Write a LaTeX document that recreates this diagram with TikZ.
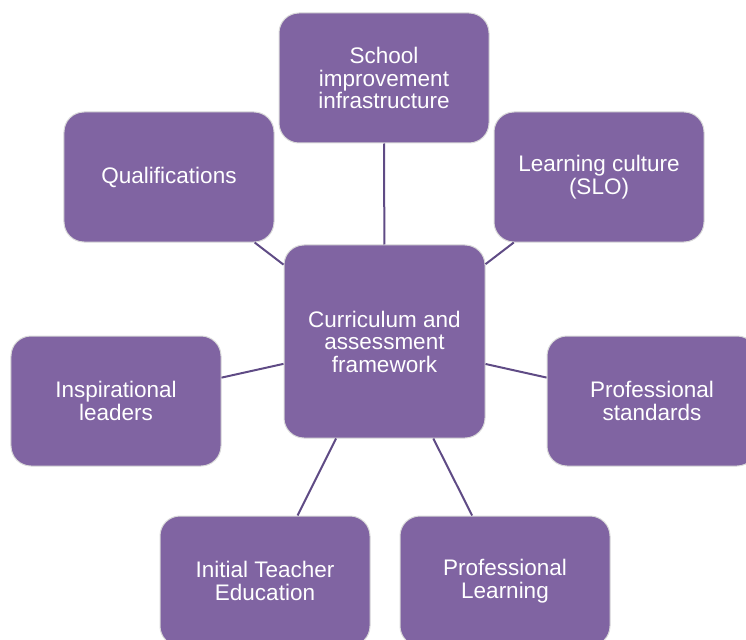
\documentclass[tikz,border=0pt]{standalone}
\usepackage{fontspec}
\setmainfont{Liberation Sans}
\definecolor{boxfill}{HTML}{8064A2}
\definecolor{boxrim}{HTML}{D9D9D9}
\definecolor{spoke}{HTML}{5F4B85}
\begin{document}
\begin{tikzpicture}[x=1bp,y=-1bp,
  hub/.style={draw=boxrim, line width=1bp, fill=boxfill, rounded corners=20bp,
    text=white, align=center, inner sep=0pt,
    font=\fontsize{22.5bp}{22.5bp}\selectfont},
  satellite/.style={hub, minimum width=210bp, minimum height=130bp},
  link/.style={draw=spoke, line width=2bp}]
\useasboundingbox (0,0) rectangle (746,640);
\begin{scope}
\clip (0,0) rectangle (746,640);
% central box
\node[hub, minimum width=201bp, minimum height=193bp] (caf) at (384.5,341.5)
  {Curriculum and\\assessment\\framework};
% surrounding boxes
\node[satellite] (sii) at (384,78) {School\\improvement\\infrastructure};
\node[satellite] (qual) at (169,177) {Qualifications};
\node[satellite] (slo) at (599,177) {Learning culture\\(SLO)};
\node[satellite] (lead) at (116,401) {Inspirational\\leaders};
\node[satellite] (std) at (652,401) {Professional\\standards};
\node[satellite] (ite) at (265,581) {Initial Teacher\\Education};
\node[satellite] (pl) at (505,581) {Professional\\Learning};
% spokes
\foreach \n in {sii,qual,slo,lead,std,ite,pl}
  \draw[link] (caf) -- (\n);
\end{scope}
\end{tikzpicture}
\end{document}
